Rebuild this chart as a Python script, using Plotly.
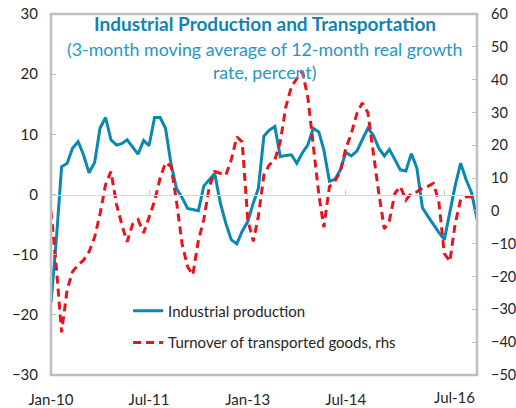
import pandas as pd
import plotly.graph_objects as go

# Monthly dates Jan-2010 .. Jul-2016
months = pd.date_range("2010-01-01", "2016-07-01", freq="MS")

industrial_production = [
    -18.0, -7.0, 4.6, 5.2, 7.7, 8.8, 6.6, 3.6, 5.3, 11.0, 12.8, 9.1,
    8.2, 8.5, 9.1, 7.8, 6.7, 9.0, 8.1, 12.8, 12.8, 11.0, 5.0, 1.0,
    -0.5, -2.3, -2.5, -2.7, 1.4, 2.4, 3.5, -1.4, -4.8, -7.5, -8.2, -6.1,
    -4.5, -1.4, 1.0, 9.7, 10.7, 11.3, 6.3, 6.5, 6.6, 5.2, 6.9, 8.2,
    11.0, 10.4, 7.4, 2.2, 2.5, 4.1, 7.0, 6.4, 7.2, 9.1, 11.0, 9.9,
    7.7, 6.4, 7.5, 5.8, 4.1, 3.9, 6.8, 4.4, -2.2, -3.6, -5.0, -6.3,
    -7.5, -2.8, 1.4, 5.2, 2.5, 0.3, -4.1,
]

transported_goods = [
    0.0, -18.0, -37.0, -24.0, -18.5, -16.5, -15.0, -12.5, -8.0, -1.0, 8.0, 12.0,
    2.0, -4.5, -9.4, -4.0, -2.7, -6.7, -2.0, 3.0, 10.0, 14.7, 13.5, 3.0,
    -10.0, -17.0, -19.5, -9.0, -2.7, 7.4, 12.0, 11.5, 10.9, 15.5, 22.6, 21.0,
    -2.7, -9.3, -1.7, 10.9, 14.0, 15.5, 21.0, 31.7, 37.8, 40.3, 42.4, 35.0,
    20.0, 5.0, -5.0, 7.4, 9.0, 12.0, 19.0, 23.6, 29.7, 32.9, 30.0, 17.0,
    5.4, -5.5, -3.0, 5.4, 7.4, 3.3, 5.4, 5.8, 6.9, 7.5, 8.4, 3.0,
    -13.0, -15.4, -4.0, 3.5, 4.4, 4.3, 3.8,
]

tick_dates = ["2010-01-01", "2011-07-01", "2013-01-01", "2014-07-01"]
tick_labels = ["Jan-10", "Jul-11", "Jan-13", "Jul-14"]
zero_line_ticks = ["2010-01-01", "2011-07-01", "2013-01-01", "2014-07-01", "2016-01-01"]
last_label = "Jul-16"

left_ticks = [-30, -20, -10, 0, 10, 20, 30]
right_ticks = [-50, -40, -30, -20, -10, 0, 10, 20, 30, 40, 50, 60]

FONT = "Lato"
BLUE = "#0A87B2"
RED = "#E8141C"
GRAY = "#BFBFBF"
TXT = "#262626"

xr = [months[0], months[-1]]

fig = go.Figure()
fig.add_trace(go.Scatter(
    x=months, y=industrial_production, name="Industrial production",
    mode="lines", line=dict(color=BLUE, width=3), xaxis="x", yaxis="y",
    legend="legend",
))
fig.add_trace(go.Scatter(
    x=months, y=transported_goods, name="Turnover of transported goods, rhs",
    mode="lines", line=dict(color=RED, width=3, dash="8px,5px"),
    xaxis="x2", yaxis="y2", legend="legend2",
))

fig.update_layout(
    width=516, height=408,
    margin=dict(l=51, r=39, t=14, b=33),
    paper_bgcolor="white", plot_bgcolor="white",
    font=dict(family=FONT, size=15, color=TXT),
    showlegend=True,
    xaxis=dict(
        type="date", range=xr, tickvals=tick_dates, ticktext=tick_labels,
        showgrid=False, zeroline=False, showline=False, ticks="",
        ticklabelstandoff=14, tickfont=dict(size=15, color=TXT),
        automargin=False, ticklabeloverflow="allow",
    ),
    xaxis2=dict(
        type="date", range=xr, overlaying="x", anchor="free", position=0.5,
        tickvals=zero_line_ticks, showticklabels=False, showgrid=False,
        zeroline=False, showline=True, linecolor="#D9D9D9", linewidth=1,
        ticks="inside", ticklen=5, tickcolor="#C8C8C8", tickwidth=1,
        automargin=False,
    ),
    yaxis=dict(
        range=[-30, 30], tickvals=left_ticks, showgrid=False, zeroline=False,
        showline=False, ticks="inside", ticklen=5, tickcolor=GRAY,
        ticklabelstandoff=12, tickfont=dict(size=15, color=TXT),
        automargin=False, ticklabeloverflow="allow",
    ),
    yaxis2=dict(
        range=[-50, 60], tickvals=right_ticks, overlaying="y", side="right",
        anchor="x", showgrid=False, zeroline=False, showline=False,
        ticks="inside", ticklen=5, tickcolor=GRAY,
        ticklabelstandoff=13, tickfont=dict(size=14.5, color=TXT),
        automargin=False, ticklabeloverflow="allow",
    ),
    legend=dict(
        x=0.181, y=0.177, xanchor="left", yanchor="middle",
        bgcolor="rgba(0,0,0,0)", font=dict(size=15, color=TXT),
    ),
    legend2=dict(
        x=0.181, y=0.089, xanchor="left", yanchor="middle",
        bgcolor="rgba(0,0,0,0)", font=dict(size=15, color=TXT),
    ),
)

fig.add_shape(type="rect", xref="paper", yref="paper", x0=0, x1=1, y0=0, y1=1,
              line=dict(color=GRAY, width=2.5), layer="above")

fig.add_annotation(text="<b>Industrial Production and Transportation</b>",
                   xref="paper", yref="paper", x=0.502, y=0.975,
                   xanchor="center", yanchor="middle", showarrow=False,
                   font=dict(size=19, color="#1483B0"))
fig.add_annotation(text="(3-month moving average of 12-month real growth",
                   xref="paper", yref="paper", x=0.502, y=0.903,
                   xanchor="center", yanchor="middle", showarrow=False,
                   font=dict(size=17.8, color="#2696C6"))
fig.add_annotation(text="rate, percent)",
                   xref="paper", yref="paper", x=0.502, y=0.839,
                   xanchor="center", yanchor="middle", showarrow=False,
                   font=dict(size=17.8, color="#2696C6"))
fig.add_annotation(text=last_label, xref="x", yref="paper",
                   x=months[-1], y=-0.061, xanchor="right", yanchor="middle",
                   showarrow=False, font=dict(size=15, color=TXT))

fig.write_html(
    "out.html",
    config={"displayModeBar": False},
    post_script="document.body.style.margin='0';document.body.style.overflow='hidden';",
)
